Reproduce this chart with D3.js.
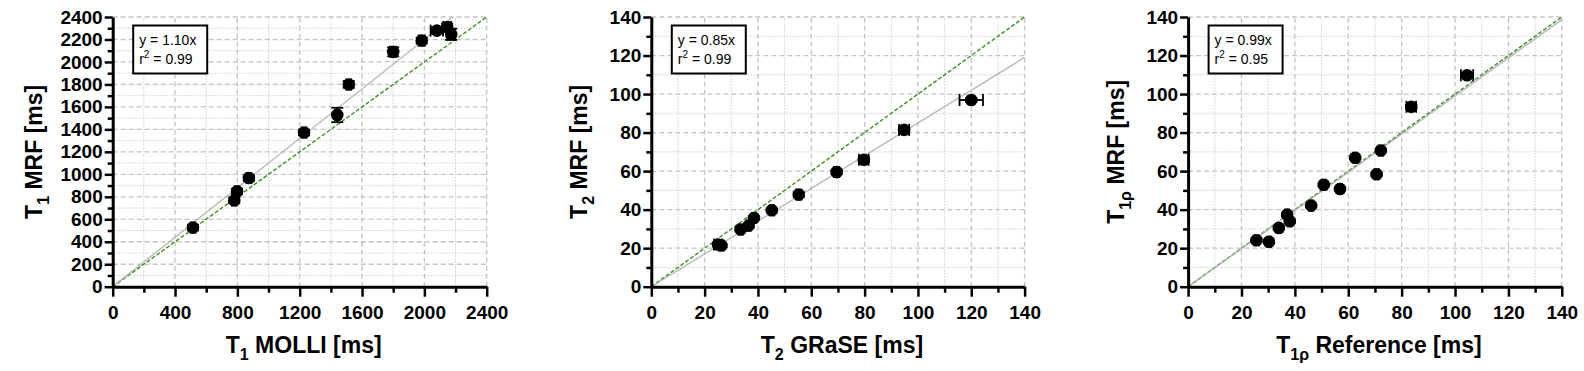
<!DOCTYPE html>
<html>
<head>
<meta charset="utf-8">
<script src="https://cdn.jsdelivr.net/npm/d3@7"></script>
<style>
  body { margin: 0; background: #fff; }
  text { font-family: "Liberation Sans", Arial, sans-serif; }
</style>
</head>
<body>
<script>
// T1 panel
let t1Molli    = [515, 780, 798, 874, 1228, 1441, 1515, 1800, 1983, 2080, 2146, 2172];
let t1Mrf      = [526, 768, 848, 967, 1372, 1528, 1800, 2090, 2190, 2279, 2311, 2246];
let t1MolliErr = [15, 15, 15, 15, 15, 15, 15, 20, 20, 40, 25, 25];
let t1MrfErr   = [25, 25, 25, 25, 25, 64, 30, 40, 25, 25, 30, 50];

// T2 panel
let t2Grase    = [25.0, 26.3, 33.5, 36.5, 38.5, 45.2, 55.3, 69.5, 79.7, 94.8, 120];
let t2Mrf      = [21.9, 21.4, 29.7, 31.7, 35.7, 39.7, 47.8, 59.5, 65.9, 81.4, 96.9];
let t2GraseErr = [1.5, 0.8, 0.8, 0.8, 0.8, 0.8, 1.0, 1.0, 1.8, 1.9, 4.4];
let t2MrfErr   = [0.8, 0.8, 0.8, 0.8, 0.8, 0.8, 1.2, 1.2, 1.2, 1.2, 1.0];

// T1rho panel
let t1rRef    = [25.6, 30.3, 34.0, 37.1, 38.1, 46.1, 50.8, 56.9, 62.6, 70.6, 72.2, 83.6, 104.5];
let t1rMrf    = [24.1, 23.3, 30.5, 37.4, 34.0, 42.1, 52.9, 50.7, 66.9, 58.4, 70.7, 93.4, 109.8];
let t1rRefErr = [0.8, 0.8, 0.8, 0.8, 0.8, 0.8, 0.8, 0.8, 0.8, 0.8, 0.8, 1.8, 2.3];
let t1rMrfErr = [0.8, 0.8, 0.8, 0.8, 0.8, 0.8, 0.8, 0.8, 0.8, 0.8, 0.8, 1.0, 1.0];

// fit slopes and r^2
let slopes = [1.10, 0.85, 0.99];
let r2s = ['0.99', '0.99', '0.95'];

let width = 1584, height = 371;
let plotTop = 17, plotBottom = 286.7;

let svg = d3.select('body').append('svg')
  .attr('width', width)
  .attr('height', height)
  .style('background', '#fff');

function panel(opts) {
  let g = svg.append('g');
  let x = d3.scaleLinear().domain([0, opts.max]).range([opts.left, opts.right]);
  let y = d3.scaleLinear().domain([0, opts.max]).range([plotBottom, plotTop]);

  let majorX = d3.range(0, opts.max + 1, opts.xMajor);
  let minorX = d3.range(opts.xMajor / 2, opts.max, opts.xMajor);
  let majorY = d3.range(0, opts.max + 1, opts.yMajor);
  let minorY = d3.range(opts.yMajor / 2, opts.max, opts.yMajor);

  // grid
  let grid = g.append('g');
  grid.selectAll('.mx').data(minorX).enter().append('line')
    .attr('x1', d => x(d)).attr('x2', d => x(d))
    .attr('y1', plotBottom).attr('y2', plotTop)
    .attr('stroke', '#cfcfcf').attr('stroke-width', 1).attr('stroke-dasharray', '1.5,1.5');
  grid.selectAll('.my').data(minorY).enter().append('line')
    .attr('y1', d => y(d)).attr('y2', d => y(d))
    .attr('x1', opts.left).attr('x2', opts.right)
    .attr('stroke', '#cfcfcf').attr('stroke-width', 1).attr('stroke-dasharray', '1.5,1.5');
  grid.selectAll('.Mx').data(majorX.slice(1)).enter().append('line')
    .attr('x1', d => x(d)).attr('x2', d => x(d))
    .attr('y1', plotBottom).attr('y2', plotTop)
    .attr('stroke', '#c4c4c4').attr('stroke-width', 1.3).attr('stroke-dasharray', '5,3');
  grid.selectAll('.My').data(majorY.slice(1)).enter().append('line')
    .attr('y1', d => y(d)).attr('y2', d => y(d))
    .attr('x1', opts.left).attr('x2', opts.right)
    .attr('stroke', '#c4c4c4').attr('stroke-width', 1.3).attr('stroke-dasharray', '5,3');

  // identity and fit lines, clipped to plot area
  let xEndFit = Math.min(opts.max, opts.max / opts.slope);
  g.append('line')
    .attr('x1', x(0)).attr('y1', y(0))
    .attr('x2', x(opts.max)).attr('y2', y(opts.max))
    .attr('stroke', '#3d8f1e').attr('stroke-width', 1.4).attr('stroke-dasharray', '4,2');
  g.append('line')
    .attr('x1', x(0)).attr('y1', y(0))
    .attr('x2', x(xEndFit)).attr('y2', y(xEndFit * opts.slope))
    .attr('stroke', '#b0b0b0').attr('stroke-width', 1.5).attr('stroke-opacity', 0.85);

  // axes
  let xAxis = g.append('g').attr('transform', `translate(0,${plotBottom})`)
    .call(d3.axisBottom(x).tickValues(minorX).tickSize(6).tickSizeOuter(0).tickFormat(''));
  xAxis.select('.domain').remove();
  g.append('g').attr('transform', `translate(0,${plotBottom})`)
    .call(d3.axisBottom(x).tickValues(majorX).tickSize(10).tickSizeOuter(0).tickPadding(9).tickFormat(d3.format('d')));
  let yAxis = g.append('g').attr('transform', `translate(${opts.left},0)`)
    .call(d3.axisLeft(y).tickValues(minorY).tickSize(5).tickSizeOuter(0).tickFormat(''));
  yAxis.select('.domain').remove();
  g.append('g').attr('transform', `translate(${opts.left},0)`)
    .call(d3.axisLeft(y).tickValues(majorY).tickSize(8).tickSizeOuter(0).tickPadding(2).tickFormat(d3.format('d')));

  g.selectAll('.tick line').attr('stroke', '#000').attr('stroke-width', 2.5);
  g.selectAll('.domain').attr('stroke', '#000').attr('stroke-width', 3);
  g.selectAll('.tick text')
    .attr('fill', '#000')
    .style('font-size', '19px')
    .style('font-weight', 'bold')
    .style('font-family', '"Liberation Sans", Arial, sans-serif');

  // error bars
  let pts = opts.xs.map((d, i) => ({ x: d, y: opts.ys[i], ex: opts.xErr[i], ey: opts.yErr[i] }));
  let cap = 6;
  let eb = g.append('g').attr('stroke', '#000').attr('stroke-width', 1.8);
  pts.forEach(p => {
    eb.append('line').attr('x1', x(p.x - p.ex)).attr('x2', x(p.x + p.ex)).attr('y1', y(p.y)).attr('y2', y(p.y));
    eb.append('line').attr('x1', x(p.x - p.ex)).attr('x2', x(p.x - p.ex)).attr('y1', y(p.y) - cap).attr('y2', y(p.y) + cap);
    eb.append('line').attr('x1', x(p.x + p.ex)).attr('x2', x(p.x + p.ex)).attr('y1', y(p.y) - cap).attr('y2', y(p.y) + cap);
    eb.append('line').attr('x1', x(p.x)).attr('x2', x(p.x)).attr('y1', y(p.y - p.ey)).attr('y2', y(p.y + p.ey));
    eb.append('line').attr('x1', x(p.x) - cap).attr('x2', x(p.x) + cap).attr('y1', y(p.y - p.ey)).attr('y2', y(p.y - p.ey));
    eb.append('line').attr('x1', x(p.x) - cap).attr('x2', x(p.x) + cap).attr('y1', y(p.y + p.ey)).attr('y2', y(p.y + p.ey));
  });

  g.selectAll('circle.pt').data(pts).enter().append('circle')
    .attr('class', 'pt')
    .attr('cx', d => x(d.x))
    .attr('cy', d => y(d.y))
    .attr('r', 6.3)
    .attr('fill', '#000');

  // legend box
  let lx = opts.left + 20.5;
  g.append('rect')
    .attr('x', lx).attr('y', 25.5)
    .attr('width', 74).attr('height', 48)
    .attr('fill', '#fff').attr('stroke', '#000').attr('stroke-width', 2);
  g.append('text')
    .attr('x', lx + 6).attr('y', 45)
    .style('font-size', '14px')
    .text('y = ' + opts.slope.toFixed(2) + 'x');
  let r = g.append('text')
    .attr('x', lx + 6).attr('y', 64)
    .style('font-size', '14px');
  r.append('tspan').text('r');
  r.append('tspan').attr('dy', -6).style('font-size', '10px').text('2');
  r.append('tspan').attr('dy', 6).text(' = ' + opts.r2);

  // x title
  let xt = g.append('text')
    .attr('x', (opts.left + opts.right) / 2 + 4)
    .attr('y', 353)
    .attr('text-anchor', 'middle')
    .style('font-size', '23px')
    .style('font-weight', 'bold');
  xt.append('tspan').text('T');
  xt.append('tspan').attr('dy', 7).style('font-size', '16px').text(opts.sub);
  xt.append('tspan').attr('dy', -7).text(' ' + opts.xLabel);

  // y title
  let yt = g.append('text')
    .attr('transform', `translate(${opts.yTitleX},${(plotTop + plotBottom) / 2}) rotate(-90)`)
    .attr('text-anchor', 'middle')
    .style('font-size', '23px')
    .style('font-weight', 'bold');
  yt.append('tspan').text('T');
  yt.append('tspan').attr('dy', 7).style('font-size', '16px').text(opts.sub);
  yt.append('tspan').attr('dy', -7).text(' MRF [ms]');
}

panel({
  left: 112.7, right: 486.7, max: 2400, xMajor: 400, yMajor: 200,
  xs: t1Molli, ys: t1Mrf, xErr: t1MolliErr, yErr: t1MrfErr,
  slope: slopes[0], r2: r2s[0], sub: '1', xLabel: 'MOLLI [ms]', yTitleX: 42
});
panel({
  left: 651.3, right: 1024.6, max: 140, xMajor: 20, yMajor: 20,
  xs: t2Grase, ys: t2Mrf, xErr: t2GraseErr, yErr: t2MrfErr,
  slope: slopes[1], r2: r2s[1], sub: '2', xLabel: 'GRaSE [ms]', yTitleX: 587
});
panel({
  left: 1188.1, right: 1561.8, max: 140, xMajor: 20, yMajor: 20,
  xs: t1rRef, ys: t1rMrf, xErr: t1rRefErr, yErr: t1rMrfErr,
  slope: slopes[2], r2: r2s[2], sub: '1\u03C1', xLabel: 'Reference [ms]', yTitleX: 1124
});
</script>
</body>
</html>
